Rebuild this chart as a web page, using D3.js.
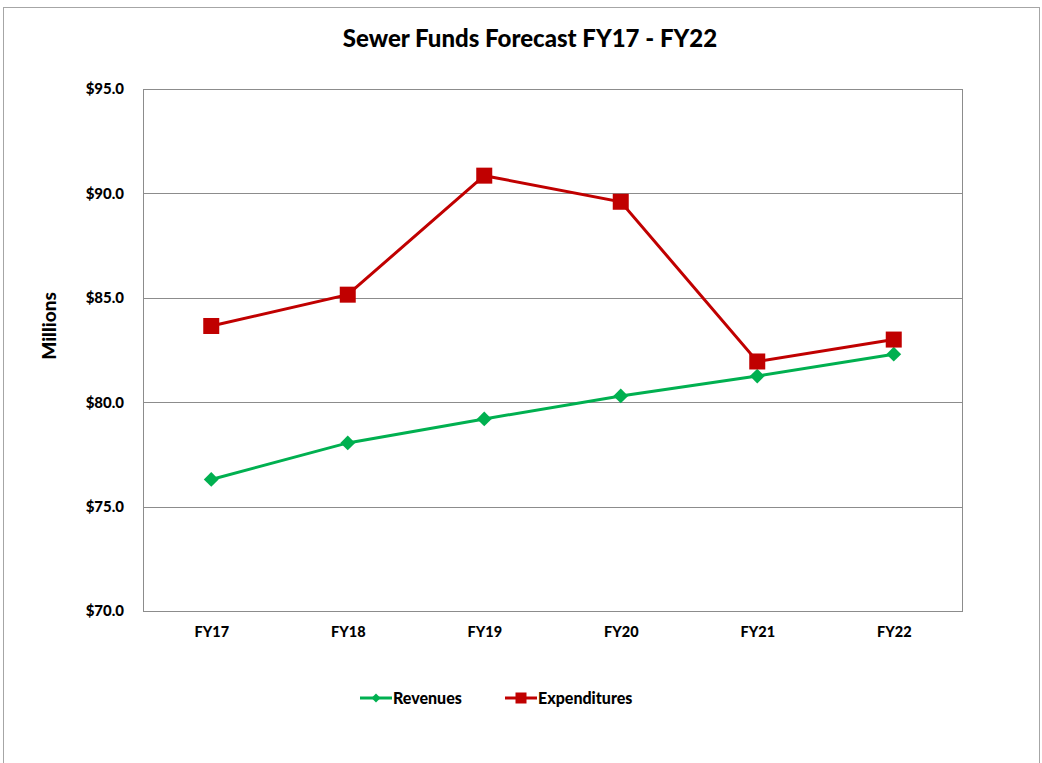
<!DOCTYPE html>
<html>
<head>
<meta charset="utf-8">
<script src="https://cdn.jsdelivr.net/npm/d3@7"></script>
<style>
  body { margin: 0; background: #fff; font-family: Lato, "Open Sans", sans-serif; }
  text { font-family: Lato, "Open Sans", sans-serif; font-weight: 900; fill: #000; }
</style>
</head>
<body>
<script>
// data
var years = ["FY17", "FY18", "FY19", "FY20", "FY21", "FY22"];
var revenues = [76.3, 78.05, 79.2, 80.3, 81.25, 82.3];
var expenditures = [83.65, 85.15, 90.85, 89.6, 81.95, 83.0];
var yTicks = [70, 75, 80, 85, 90, 95];

var red = "#C00000", green = "#00B050";

var W = 1042, H = 763;
var margin = { top: 89, right: 80, bottom: 152, left: 143 }
  , width = W - margin.left - margin.right
  , height = H - margin.top - margin.bottom;

var svg = d3.select("body").append("svg")
  .attr("width", W)
  .attr("height", H);

// outer chart border
svg.append("rect")
  .attr("x", 3.5).attr("y", 7.5)
  .attr("width", 1036).attr("height", 770)
  .attr("fill", "none").attr("stroke", "#a6a6a6");

svg.append("text")
  .attr("x", 530).attr("y", 47)
  .attr("text-anchor", "middle")
  .style("font-size", "24px")
  .text("Sewer Funds Forecast FY17 - FY22");

var g = svg.append("g")
  .attr("transform", "translate(" + margin.left + "," + margin.top + ")");

var xScale = d3.scalePoint()
  .domain(years)
  .range([0, width])
  .padding(0.5);

var yScale = d3.scaleLinear()
  .domain([70, 95])
  .range([height, 0]);

// gridlines
g.selectAll(".grid").data(yTicks.slice(1, -1)).enter().append("line")
  .attr("x1", 0).attr("x2", width)
  .attr("y1", function (d) { return Math.round(yScale(d)) + 0.5; })
  .attr("y2", function (d) { return Math.round(yScale(d)) + 0.5; })
  .attr("stroke", "#8c8c8c").attr("stroke-width", 1);

// plot border
g.append("rect")
  .attr("x", 0.5).attr("y", 0.5)
  .attr("width", width).attr("height", height)
  .attr("fill", "none").attr("stroke", "#8c8c8c");

// y axis labels
var yAxis = g.append("g")
  .call(d3.axisLeft(yScale).tickValues(yTicks).tickSize(0).tickPadding(19)
    .tickFormat(function (d) { return "$" + d3.format(".1f")(d); }));
yAxis.select(".domain").remove();
yAxis.selectAll("text").style("font-size", "15px").style("font-family", null).attr("fill", "#000");

// x axis labels
var xAxis = g.append("g")
  .attr("transform", "translate(0," + height + ")")
  .call(d3.axisBottom(xScale).tickSize(0).tickPadding(16));
xAxis.select(".domain").remove();
xAxis.selectAll("text").style("font-size", "14.5px").style("font-family", null).attr("fill", "#000");

svg.append("text")
  .attr("transform", "translate(56,326) rotate(-90)")
  .attr("text-anchor", "middle")
  .style("font-size", "19px")
  .text("Millions");

var line = d3.line()
  .x(function (d, i) { return xScale(years[i]); })
  .y(function (d) { return yScale(d); });

var diamond = d3.symbol().type(d3.symbolSquare).size(110);

function drawSeries(vals, color, kind) {
  g.append("path")
    .datum(vals)
    .attr("fill", "none")
    .attr("stroke", color)
    .attr("stroke-width", 3)
    .attr("d", line);
  var m = g.selectAll(null).data(vals).enter();
  if (kind === "square") {
    m.append("rect")
      .attr("x", function (d, i) { return xScale(years[i]) - 8; })
      .attr("y", function (d) { return yScale(d) - 8; })
      .attr("width", 16).attr("height", 16)
      .attr("fill", color);
  } else {
    m.append("path")
      .attr("d", diamond)
      .attr("transform", function (d, i) {
        return "translate(" + xScale(years[i]) + "," + yScale(d) + ") rotate(45)";
      })
      .attr("fill", color);
  }
}

drawSeries(revenues, green, "diamond");
drawSeries(expenditures, red, "square");

// legend
var legend = [
  { name: "Revenues", color: green, kind: "diamond", x: 360 },
  { name: "Expenditures", color: red, kind: "square", x: 505 }
];
var lg = svg.selectAll(".legend").data(legend).enter().append("g")
  .attr("transform", function (d) { return "translate(" + d.x + ",698)"; });
lg.append("line")
  .attr("x1", 0).attr("x2", 32)
  .attr("stroke", function (d) { return d.color; })
  .attr("stroke-width", 3);
lg.each(function (d) {
  var s = d3.select(this);
  if (d.kind === "square") {
    s.append("rect").attr("x", 10.5).attr("y", -5.5).attr("width", 11).attr("height", 11).attr("fill", d.color);
  } else {
    s.append("path").attr("d", d3.symbol().type(d3.symbolSquare).size(40))
      .attr("transform", "translate(16,0) rotate(45)").attr("fill", d.color);
  }
});
lg.append("text")
  .attr("x", 33).attr("dy", "0.35em")
  .style("font-size", "16px")
  .text(function (d) { return d.name; });
</script>
</body>
</html>
